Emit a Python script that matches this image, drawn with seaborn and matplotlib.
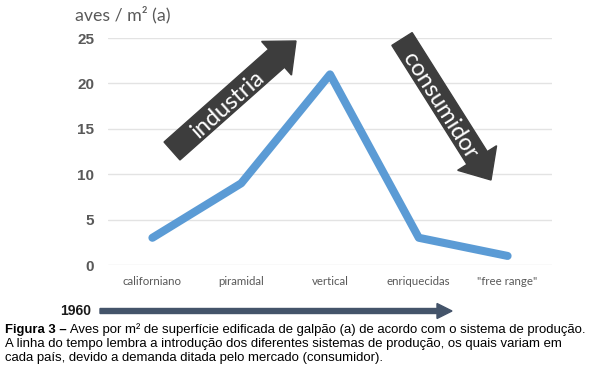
import matplotlib
matplotlib.use("Agg")
import matplotlib.pyplot as plt
import matplotlib.transforms as mtransforms
from matplotlib.patches import FancyArrow
import seaborn as sns
import pandas as pd

# data
sistemas = ["californiano", "piramidal", "vertical", "enriquecidas", "\"free range\""]
aves_m2 = [3, 9, 21, 3, 1]
yticks = [0, 5, 10, 15, 20, 25]

df = pd.DataFrame({"sistema": sistemas, "aves": aves_m2})

sns.set_style("white")
plt.rcParams["font.family"] = ["Lato", "DejaVu Sans"]

fig = plt.figure(figsize=(6, 3.73), dpi=100)
ax = fig.add_axes([0.18, 0.2895, 0.74, 0.6085])

sns.lineplot(data=df, x="sistema", y="aves", sort=False, ax=ax,
             color="#5b9bd5", linewidth=5.8,
             solid_capstyle="round", solid_joinstyle="round")

ax.set_xlim(-0.5, 4.5)
ax.set_ylim(0, 25)
ax.set_yticks(yticks)
ax.set_yticklabels([str(v) for v in yticks], fontsize=11, fontweight="bold",
                   color="#595959", family="Liberation Sans")
ax.tick_params(axis="y", length=0, pad=10)
ax.tick_params(axis="x", length=0, pad=8, labelsize=8.3, labelcolor="#595959")
ax.grid(axis="y", color="#e3e3e3", linewidth=1)
ax.set_axisbelow(True)
for s in ax.spines.values():
    s.set_visible(False)
ax.set_xlabel("")
ax.set_ylabel("")

# pixel coordinates of the reference image (origin top-left)
px = mtransforms.Affine2D().scale(0.01, -0.01).translate(0, 3.73) + fig.dpi_scale_trans

fig.text(75, 15, "aves / m² (a)", transform=px, fontsize=12.8, color="#595959",
         va="center", ha="left")

# big dark arrows
dark = "#3d3d3d"
fig.patches.append(FancyArrow(172, 151, 124, -110, width=24, head_width=45,
                              head_length=26, length_includes_head=True,
                              color=dark, transform=px, figure=fig))
fig.patches.append(FancyArrow(402, 39, 89, 141, width=24, head_width=46,
                              head_length=26, length_includes_head=True,
                              color=dark, transform=px, figure=fig))
fig.text(228, 104, "industria", transform=px, rotation=41.6, rotation_mode="anchor",
         ha="center", va="center", color="white", fontsize=17)
fig.text(440, 106, "consumidor", transform=px, rotation=-57.7, rotation_mode="anchor",
         ha="center", va="center", color="white", fontsize=17)

# timeline
fig.patches.append(FancyArrow(100, 311, 352, 0, width=5, head_width=15,
                              head_length=15, length_includes_head=True,
                              color="#44546a", transform=px, figure=fig))
fig.text(91, 311, "1960", transform=px, ha="right", va="center",
         fontsize=10, fontweight="bold", color="#1a1a1a", family="Liberation Sans")

# caption
fs = 9.45
cap = dict(transform=px, fontsize=fs, family="Liberation Sans", color="black", va="baseline")
t = fig.text(5, 333, "Figura 3 \u2013", fontweight="bold", **cap)
plt.annotate(" Aves por m² de superfície edificada de galpão (a) de acordo com o sistema de produção.",
             xy=(1, 0), xycoords=t, va="bottom", ha="left",
             fontsize=fs, family="Liberation Sans", color="black",
             annotation_clip=False)
fig.text(5, 347, "A linha do tempo lembra a introdução dos diferentes sistemas de produção, os quais variam em", **cap)
fig.text(5, 361, "cada país, devido a demanda ditada pelo mercado (consumidor).", **cap)

fig.savefig("out.png", dpi=100)
